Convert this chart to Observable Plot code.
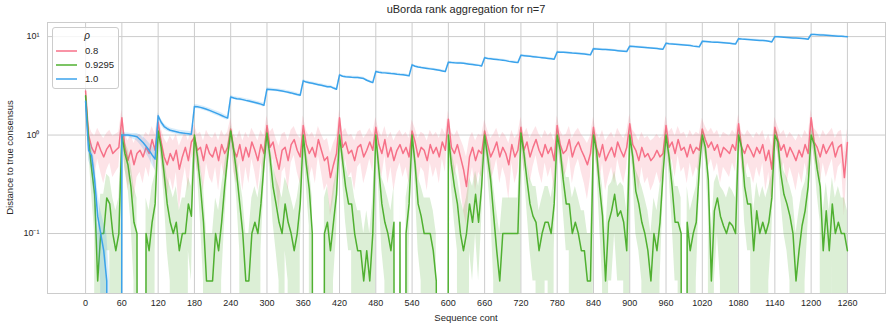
<!DOCTYPE html>
<html><head><meta charset="utf-8">
<script src="https://cdn.jsdelivr.net/npm/d3@7"></script>
<script src="https://cdn.jsdelivr.net/npm/@observablehq/plot@0.6"></script>
<style>body{margin:0;background:#fff;} svg{display:block;}</style>
</head><body><div id="chart"></div>
<script>
// ---------- data ----------
const seqStart = 0, seqEnd = 1260, seqStep = 5;
const xTicks = [0,60,120,180,240,300,360,420,480,540,600,660,720,780,840,900,960,1020,1080,1140,1200,1260];
const yTicks = [0.1, 1, 10];
const yTickLabels = ["10\u207B\u00B9", "10\u2070", "10\u00B9"];
const rhoLabels = ["0.8", "0.9295", "1.0"];
const titleText = "uBorda rank aggregation for n=7";
const xLabel = "Sequence cont";
const yLabel = "Distance to true consensus";

// rho = 0.8
const red = [
2.8,1.0,0.75,0.65,0.85,0.7,0.6,0.72,0.8,0.65,0.7,0.75,
1.5,0.75,0.55,0.7,0.5,0.65,0.7,0.6,0.75,0.65,0.9,0.7,
1.35,0.85,0.6,0.5,0.65,0.55,0.7,0.45,0.6,0.75,0.55,0.85,
0.95,0.7,0.75,0.55,0.8,0.65,0.6,0.75,0.55,0.8,0.65,0.75,
1.15,0.7,0.6,0.8,0.55,0.75,0.6,0.85,0.7,0.55,0.8,0.65,
1.25,0.75,0.85,0.6,0.45,0.7,0.75,0.55,0.8,0.9,0.7,0.6,
1.25,0.8,0.65,0.75,0.6,0.9,0.7,0.55,0.6,0.37,0.5,0.65,
1.5,0.75,0.85,0.65,0.7,0.55,0.75,0.8,0.6,0.7,0.85,0.7,
1.2,0.8,0.65,0.9,0.6,0.75,0.55,0.7,0.8,0.65,0.75,0.6,
1.1,0.85,0.6,0.75,0.7,0.55,0.8,0.65,0.75,0.6,0.85,0.7,
1.45,0.75,0.65,0.8,0.6,0.45,0.3,0.6,0.75,0.55,0.7,0.65,
1.1,0.8,0.6,0.7,0.85,0.6,0.75,0.65,0.5,0.8,0.6,0.7,
1.2,0.7,0.85,0.6,0.75,0.9,0.7,0.6,0.8,0.65,0.75,0.55,
1.25,0.8,0.65,0.7,0.9,0.6,0.75,0.85,0.7,0.6,0.5,0.65,
1.2,0.75,0.6,0.8,0.55,0.65,0.75,0.6,0.85,0.7,0.6,0.75,
1.3,0.8,0.7,0.55,0.75,0.6,0.65,0.55,0.6,0.7,0.6,0.65,
1.25,0.75,0.85,0.65,0.9,0.7,0.75,0.6,0.8,0.65,0.75,0.7,
1.15,0.9,0.75,0.85,0.7,0.8,0.6,0.75,0.7,0.65,0.8,0.7,
1.3,0.75,0.65,0.8,0.7,0.6,0.75,0.65,0.8,0.55,0.7,0.45,
1.2,0.9,0.7,0.8,0.6,0.75,0.65,0.55,0.7,0.6,0.8,0.65,
1.5,0.85,0.75,0.6,0.8,0.65,0.75,0.85,0.6,0.75,0.8,0.37,0.84];
const redLo = [
2.5,0.72,0.47,0.37,0.57,0.42,0.32,0.44,0.52,0.37,0.42,0.47,
1.2,0.47,0.27,0.42,0.22,0.37,0.42,0.32,0.47,0.37,0.62,0.42,
1.07,0.57,0.32,0.22,0.37,0.27,0.42,0.17,0.32,0.47,0.27,0.57,
0.67,0.42,0.47,0.27,0.52,0.37,0.32,0.47,0.27,0.52,0.37,0.47,
0.87,0.42,0.32,0.52,0.27,0.47,0.32,0.57,0.42,0.27,0.52,0.37,
0.97,0.47,0.57,0.32,0.17,0.42,0.47,0.27,0.52,0.62,0.42,0.32,
0.97,0.52,0.37,0.47,0.32,0.62,0.42,0.27,0.32,0.15,0.22,0.37,
1.2,0.47,0.57,0.37,0.42,0.27,0.47,0.52,0.32,0.42,0.57,0.42,
0.92,0.52,0.37,0.62,0.32,0.47,0.27,0.42,0.52,0.37,0.47,0.32,
0.82,0.57,0.32,0.47,0.42,0.27,0.52,0.37,0.47,0.32,0.57,0.42,
1.17,0.47,0.37,0.52,0.32,0.17,0.12,0.32,0.47,0.27,0.42,0.37,
0.82,0.52,0.32,0.42,0.57,0.32,0.47,0.37,0.22,0.52,0.32,0.42,
0.92,0.42,0.57,0.32,0.47,0.62,0.42,0.32,0.52,0.37,0.47,0.27,
0.97,0.52,0.37,0.42,0.62,0.32,0.47,0.57,0.42,0.32,0.22,0.37,
0.92,0.47,0.32,0.52,0.27,0.37,0.47,0.32,0.57,0.42,0.32,0.47,
1.02,0.52,0.42,0.27,0.47,0.32,0.37,0.27,0.32,0.42,0.32,0.37,
0.97,0.47,0.57,0.37,0.62,0.42,0.47,0.32,0.52,0.37,0.47,0.42,
0.87,0.62,0.47,0.57,0.42,0.52,0.32,0.47,0.42,0.37,0.52,0.42,
1.02,0.47,0.37,0.52,0.42,0.32,0.47,0.37,0.52,0.27,0.42,0.17,
0.92,0.62,0.42,0.52,0.32,0.47,0.37,0.27,0.42,0.32,0.52,0.37,
1.2,0.57,0.47,0.32,0.52,0.37,0.47,0.57,0.32,0.47,0.52,0.15,0.56];
const redHi = [
3.1,1.32,1.07,0.97,1.17,1.02,0.92,1.04,1.12,0.97,1.02,1.07,
1.8,1.07,0.87,1.02,0.82,0.97,1.02,0.92,1.07,0.97,1.22,1.02,
1.65,1.17,0.92,0.82,0.97,0.87,1.02,0.77,0.92,1.07,0.87,1.17,
1.27,1.02,1.07,0.87,1.12,0.97,0.92,1.07,0.87,1.12,0.97,1.07,
1.47,1.02,0.92,1.12,0.87,1.07,0.92,1.17,1.02,0.87,1.12,0.97,
1.57,1.07,1.17,0.92,0.77,1.02,1.07,0.87,1.12,1.22,1.02,0.92,
1.57,1.12,0.97,1.07,0.92,1.22,1.02,0.87,0.92,0.65,0.82,0.97,
1.8,1.07,1.17,0.97,1.02,0.87,1.07,1.12,0.92,1.02,1.17,1.02,
1.52,1.12,0.97,1.22,0.92,1.07,0.87,1.02,1.12,0.97,1.07,0.92,
1.42,1.17,0.92,1.07,1.02,0.87,1.12,0.97,1.07,0.92,1.17,1.02,
1.75,1.07,0.97,1.12,0.92,0.77,0.6,0.92,1.07,0.87,1.02,0.97,
1.42,1.12,0.92,1.02,1.17,0.92,1.07,0.97,0.82,1.12,0.92,1.02,
1.52,1.02,1.17,0.92,1.07,1.22,1.02,0.92,1.12,0.97,1.07,0.87,
1.57,1.12,0.97,1.02,1.22,0.92,1.07,1.17,1.02,0.92,0.82,0.97,
1.52,1.07,0.92,1.12,0.87,0.97,1.07,0.92,1.17,1.02,0.92,1.07,
1.62,1.12,1.02,0.87,1.07,0.92,0.97,0.87,0.92,1.02,0.92,0.97,
1.57,1.07,1.17,0.97,1.22,1.02,1.07,0.92,1.12,0.97,1.07,1.02,
1.47,1.22,1.07,1.17,1.02,1.12,0.92,1.07,1.02,0.97,1.12,1.02,
1.62,1.07,0.97,1.12,1.02,0.92,1.07,0.97,1.12,0.87,1.02,0.77,
1.52,1.22,1.02,1.12,0.92,1.07,0.97,0.87,1.02,0.92,1.12,0.97,
1.8,1.17,1.07,0.92,1.12,0.97,1.07,1.17,0.92,1.07,1.12,0.65,1.16];

// rho = 0.9295
const green = [
2.5,0.9,0.45,0.25,0.033,0.1,0.1,0.23,0.2,0.1,0.067,0.1,
1.0,0.65,0.5,0.3,0.13,0.1,0,0,0.1,0.067,0.13,0.2,
1.1,0.75,0.4,0.2,0.13,0.1,0.13,0.067,0.1,0.1,0.2,0.15,
1.0,0.6,0.3,0.13,0.033,0.033,0.033,0.1,0.067,0.13,0.3,0.6,
1.1,0.7,0.4,0.2,0.1,0.033,0.033,0.1,0.13,0.1,0.2,0.5,
1.05,0.6,0.3,0.2,0.13,0.1,0.2,0.13,0.1,0.067,0.1,0.2,
1.0,0.5,0.28,0.1,0,0,0,0.1,0.13,0.067,0.13,0.25,
1.0,0.55,0.3,0.2,0.2,0.1,0.067,0.067,0.033,0.067,0.033,0.1,
1.0,0.45,0.2,0.13,0.1,0.067,0.13,0,0.13,0,0.1,0.2,
1.0,0.5,0.2,0.15,0.1,0.1,0.1,0.067,0.033,0,0,0,
1.0,0.5,0.3,0.2,0.1,0.067,0.1,0.2,0.13,0.25,0.13,0.3,
1.0,0.6,0.35,0.15,0.067,0.033,0.1,0.1,0.1,0.1,0.1,0.1,
1.05,0.65,0.35,0.2,0.15,0.13,0.067,0.1,0.13,0.13,0.1,0.2,
1.0,0.7,0.35,0.2,0.2,0.1,0.13,0.1,0.067,0.067,0.033,0.033,
1.0,0.7,0.3,0.15,0.033,0.13,0.17,0.25,0.15,0.17,0.13,0.067,
1.0,0.6,0.27,0.2,0.13,0.1,0.067,0.033,0.1,0.067,0.13,0.4,
1.0,0.6,0.3,0.13,0.13,0.1,0,0.13,0.067,0.1,0.13,0.45,
1.0,0.75,0.35,0.033,0.17,0.23,0.15,0.12,0.1,0.13,0.12,0.1,
1.0,0.75,0.3,0.2,0.2,0.067,0.17,0.1,0.13,0.1,0.13,0.23,
1.0,0.85,0.4,0.25,0.2,0.15,0.1,0.033,0.067,0.12,0.17,0.3,
1.0,0.8,0.45,0.3,0.067,0.17,0.067,0.2,0.1,0.13,0.1,0.1,0.067];
const greenLo = [
2.2,0.7,0.25,0.1,0,0,0,0.067,0.067,0,0,0,
0.88,0.45,0.3,0.13,0.033,0,0,0,0,0,0,0.067,
0.95,0.55,0.22,0.067,0.033,0,0.033,0,0,0,0.067,0.033,
0.88,0.4,0.13,0.033,0,0,0,0,0,0.033,0.13,0.4,
0.95,0.5,0.22,0.067,0,0,0,0,0.033,0,0.067,0.3,
0.9,0.4,0.13,0.067,0.033,0,0.067,0.033,0,0,0,0.067,
0.88,0.3,0.12,0,0,0,0,0,0.033,0,0.033,0.1,
0.88,0.35,0.13,0.067,0.067,0,0,0,0,0,0,0,
0.88,0.27,0.067,0.033,0,0,0.033,0,0.033,0,0,0.067,
0.88,0.3,0.067,0.033,0,0,0,0,0,0,0,0,
0.88,0.3,0.13,0.067,0,0,0,0.067,0.033,0.1,0.033,0.13,
0.88,0.4,0.17,0.033,0,0,0,0,0,0,0,0,
0.9,0.45,0.17,0.067,0.033,0.033,0,0,0.033,0.033,0,0.067,
0.88,0.5,0.17,0.067,0.067,0,0.033,0,0,0,0,0,
0.88,0.5,0.13,0.033,0,0.033,0.033,0.1,0.033,0.033,0.033,0,
0.88,0.4,0.1,0.067,0.033,0,0,0,0,0,0.033,0.22,
0.88,0.4,0.13,0.033,0.033,0,0,0.033,0,0,0.033,0.25,
0.88,0.55,0.17,0,0.033,0.1,0.033,0,0,0.033,0,0,
0.88,0.55,0.13,0.067,0.067,0,0.033,0,0.033,0,0.033,0.1,
0.88,0.65,0.22,0.1,0.067,0.033,0,0,0,0,0.033,0.13,
0.88,0.6,0.25,0.13,0,0.033,0,0.067,0,0.033,0,0,0];
const greenHi = [
2.8,1.1,0.7,0.45,0.1,0.25,0.25,0.4,0.37,0.23,0.17,0.23,
1.15,0.85,0.72,0.5,0.3,0.23,0,0,0.23,0.17,0.3,0.4,
1.25,0.95,0.62,0.37,0.3,0.23,0.3,0.17,0.23,0.23,0.37,0.3,
1.15,0.8,0.5,0.3,0.1,0.1,0.1,0.23,0.17,0.3,0.5,0.8,
1.25,0.9,0.62,0.37,0.23,0.1,0.1,0.23,0.3,0.23,0.37,0.72,
1.2,0.8,0.5,0.37,0.3,0.23,0.37,0.3,0.23,0.17,0.23,0.37,
1.15,0.72,0.47,0.23,0,0,0,0.23,0.3,0.17,0.3,0.43,
1.15,0.77,0.5,0.37,0.37,0.23,0.17,0.17,0.1,0.17,0.1,0.23,
1.15,0.67,0.37,0.3,0.23,0.17,0.3,0,0.3,0,0.23,0.37,
1.15,0.72,0.37,0.3,0.23,0.23,0.23,0.17,0.1,0,0,0,
1.15,0.72,0.5,0.37,0.23,0.17,0.23,0.37,0.3,0.43,0.3,0.5,
1.15,0.8,0.55,0.3,0.17,0.1,0.23,0.23,0.23,0.23,0.23,0.23,
1.2,0.85,0.55,0.37,0.3,0.3,0.17,0.23,0.3,0.3,0.23,0.37,
1.15,0.9,0.55,0.37,0.37,0.23,0.3,0.23,0.17,0.17,0.1,0.1,
1.15,0.9,0.5,0.3,0.1,0.3,0.33,0.43,0.3,0.33,0.3,0.17,
1.15,0.8,0.45,0.37,0.3,0.23,0.17,0.1,0.23,0.17,0.3,0.62,
1.15,0.8,0.5,0.3,0.3,0.23,0,0.3,0.17,0.23,0.3,0.67,
1.15,0.95,0.55,0.1,0.33,0.4,0.3,0.27,0.23,0.3,0.27,0.23,
1.15,0.95,0.5,0.37,0.37,0.17,0.33,0.23,0.3,0.23,0.3,0.4,
1.15,1.05,0.62,0.43,0.37,0.3,0.23,0.1,0.17,0.27,0.33,0.5,
1.15,1.0,0.67,0.5,0.17,0.33,0.17,0.37,0.23,0.3,0.23,0.23,0.17];

// rho = 1.0
const blue = [
2.2,0.7,0.62,0.35,0.15,0.1,0.067,0.033,0,0,0,0,
1.0,1.0,1.0,0.99,0.98,0.96,0.9,0.84,0.77,0.7,0.63,0.57,
1.57,1.35,1.22,1.16,1.12,1.1,1.08,1.06,1.05,1.04,1.03,1.02,
1.95,1.94,1.91,1.87,1.83,1.78,1.73,1.68,1.63,1.58,1.53,1.49,
2.44,2.38,2.34,2.32,2.29,2.25,2.22,2.18,2.14,2.1,2.06,2.01,
2.92,2.9,2.88,2.86,2.83,2.8,2.76,2.72,2.68,2.63,2.58,2.54,
3.55,3.45,3.4,3.35,3.3,3.25,3.2,3.15,3.1,3.1,3.0,2.92,
4.08,3.95,3.9,3.88,3.86,3.85,3.84,3.8,3.75,3.6,3.5,3.41,
4.41,4.35,4.3,4.28,4.25,4.22,4.2,4.15,4.12,4.1,4.05,3.99,
5.16,5.0,4.92,4.85,4.8,4.75,4.7,4.65,4.6,4.55,4.48,4.41,
5.5,5.45,5.42,5.4,5.38,5.35,5.3,5.25,5.2,5.15,5.1,5.03,
6.11,6.0,5.95,5.9,5.85,5.8,5.75,5.7,5.6,5.55,5.5,5.44,
6.45,6.4,6.35,6.3,6.25,6.2,6.15,6.1,6.05,6.0,5.95,5.88,
6.98,6.95,6.92,6.9,6.85,6.8,6.78,6.75,6.7,6.65,6.58,6.52,
7.54,7.5,7.45,7.4,7.38,7.35,7.3,7.25,7.2,7.15,7.1,7.05,
7.98,7.95,7.9,7.85,7.8,7.75,7.7,7.65,7.6,7.55,7.5,7.44,
8.54,8.45,8.4,8.35,8.3,8.25,8.2,8.15,8.1,8.0,7.95,7.86,
8.96,8.9,8.85,8.8,8.78,8.75,8.7,8.65,8.6,8.55,8.48,8.4,
9.52,9.45,9.4,9.35,9.3,9.25,9.2,9.15,9.1,9.05,8.95,8.83,
9.97,9.95,9.9,9.85,9.8,9.75,9.7,9.65,9.6,9.55,9.5,9.4,
10.5,10.5,10.45,10.4,10.35,10.3,10.25,10.2,10.15,10.1,10.05,10.0,9.97];
const blueLo = [
1.9,0.55,0.45,0.2,0.067,0.033,0,0,0,0,0,0,
0.93,0.95,0.95,0.93,0.9,0.87,0.8,0.73,0.65,0.58,0.5,0.44,
1.45,1.25,1.14,1.09,1.06,1.04,1.02,1.0,0.99,0.98,0.97,0.96,
1.86,1.85,1.82,1.78,1.74,1.69,1.64,1.59,1.54,1.5,1.45,1.41,
2.34,2.29,2.25,2.23,2.2,2.16,2.13,2.09,2.05,2.01,1.97,1.92,
2.82,2.8,2.78,2.76,2.73,2.7,2.66,2.62,2.58,2.53,2.48,2.44,
3.43,3.34,3.29,3.24,3.19,3.14,3.09,3.04,2.99,2.99,2.9,2.82,
3.96,3.84,3.79,3.77,3.75,3.74,3.73,3.69,3.64,3.49,3.39,3.3,
4.3,4.24,4.19,4.17,4.14,4.11,4.09,4.04,4.01,3.99,3.94,3.88,
5.03,4.88,4.8,4.73,4.68,4.63,4.58,4.53,4.48,4.43,4.36,4.29,
5.37,5.32,5.29,5.27,5.25,5.22,5.17,5.12,5.07,5.02,4.97,4.9,
5.97,5.86,5.81,5.76,5.71,5.66,5.61,5.56,5.46,5.41,5.36,5.3,
6.31,6.26,6.21,6.16,6.11,6.06,6.01,5.96,5.91,5.86,5.81,5.74,
6.83,6.8,6.77,6.75,6.7,6.65,6.63,6.6,6.55,6.5,6.43,6.37,
7.38,7.34,7.29,7.24,7.22,7.19,7.14,7.09,7.04,6.99,6.94,6.89,
7.82,7.79,7.74,7.69,7.64,7.59,7.54,7.49,7.44,7.39,7.34,7.28,
8.37,8.28,8.23,8.18,8.13,8.08,8.03,7.98,7.93,7.83,7.78,7.69,
8.79,8.73,8.68,8.63,8.61,8.58,8.53,8.48,8.43,8.38,8.31,8.23,
9.34,9.27,9.22,9.17,9.12,9.07,9.02,8.97,8.92,8.87,8.77,8.65,
9.78,9.76,9.71,9.66,9.61,9.56,9.51,9.46,9.41,9.36,9.31,9.21,
10.3,10.3,10.25,10.2,10.15,10.1,10.05,10.0,9.95,9.9,9.85,9.8,9.77];
const blueHi = [
2.6,0.85,0.8,0.55,0.27,0.17,0.13,0.1,0.033,0,0,0,
1.05,1.05,1.05,1.04,1.04,1.04,1.0,0.96,0.9,0.83,0.77,0.7,
1.68,1.45,1.3,1.23,1.18,1.16,1.14,1.12,1.11,1.1,1.09,1.08,
2.04,2.03,2.0,1.96,1.92,1.87,1.82,1.77,1.72,1.67,1.61,1.57,
2.54,2.47,2.43,2.41,2.38,2.34,2.31,2.27,2.23,2.19,2.15,2.1,
3.02,3.0,2.98,2.96,2.93,2.9,2.86,2.82,2.78,2.73,2.68,2.64,
3.67,3.56,3.51,3.46,3.41,3.36,3.31,3.26,3.21,3.21,3.1,3.02,
4.2,4.06,4.01,3.99,3.97,3.96,3.95,3.91,3.86,3.71,3.61,3.52,
4.52,4.46,4.41,4.39,4.36,4.33,4.31,4.26,4.23,4.21,4.16,4.1,
5.29,5.12,5.04,4.97,4.92,4.87,4.82,4.77,4.72,4.67,4.6,4.53,
5.63,5.58,5.55,5.53,5.51,5.48,5.43,5.38,5.33,5.28,5.23,5.16,
6.25,6.14,6.09,6.04,5.99,5.94,5.89,5.84,5.74,5.69,5.64,5.58,
6.59,6.54,6.49,6.44,6.39,6.34,6.29,6.24,6.19,6.14,6.09,6.02,
7.13,7.1,7.07,7.05,7.0,6.95,6.93,6.9,6.85,6.8,6.73,6.67,
7.7,7.66,7.61,7.56,7.54,7.51,7.46,7.41,7.36,7.31,7.26,7.21,
8.14,8.11,8.06,8.01,7.96,7.91,7.86,7.81,7.76,7.71,7.66,7.6,
8.71,8.62,8.57,8.52,8.47,8.42,8.37,8.32,8.27,8.17,8.12,8.03,
9.13,9.07,9.02,8.97,8.95,8.92,8.87,8.82,8.77,8.72,8.65,8.57,
9.7,9.63,9.58,9.53,9.48,9.43,9.38,9.33,9.28,9.23,9.13,9.01,
10.16,10.14,10.09,10.04,9.99,9.94,9.89,9.84,9.79,9.74,9.69,9.59,
10.7,10.7,10.65,10.6,10.55,10.5,10.45,10.4,10.35,10.3,10.25,10.2,10.17];

// ---------- chart ----------
const colors = ["#f77189", "#50b131", "#3ba3ec"];
const W = 891, H = 329;
const mL = 47, mR = 6, mT = 22, mB = 36;
const font = "'Liberation Sans', Arial, sans-serif";
const seq = d3.range(seqStart, seqEnd + 1, seqStep);
const floorVal = 1e-30; // log-scale stand-in for zero (drops below the frame)
const pos = v => (v > 0 ? v : floorVal);

const series = [
  {mean: red, lo: redLo, hi: redHi},
  {mean: green, lo: greenLo, hi: greenHi},
  {mean: blue, lo: blueLo, hi: blueHi}
];

const marks = [
  Plot.gridX(xTicks, {stroke: "#cccccc", strokeOpacity: 1, strokeWidth: 1}),
  Plot.gridY(yTicks, {stroke: "#cccccc", strokeOpacity: 1, strokeWidth: 1})
];
series.forEach((s, k) => {
  const rows = seq.map((x, i) => ({x, y: pos(s.mean[i]), lo: pos(s.lo[i]), hi: pos(s.hi[i])}));
  marks.push(Plot.line(rows, {x: "x", y: "y", stroke: colors[k], strokeWidth: 1.5, clip: true}));
  marks.push(Plot.areaY(rows, {x: "x", y1: "lo", y2: "hi", fill: colors[k], fillOpacity: 0.2, clip: true}));
});
marks.push(Plot.axisX(xTicks, {tickSize: 0, tickPadding: 6, fontSize: 9, label: null, fill: "#262626",
  tickFormat: d => String(d)}));
marks.push(Plot.axisY(yTicks, {tickSize: 0, tickPadding: 8, fontSize: 9, label: null, fill: "#262626",
  tickFormat: v => yTickLabels[yTicks.indexOf(v)]}));
marks.push(Plot.frame({stroke: "#cccccc", strokeWidth: 1}));

const chart = Plot.plot({
  width: W, height: H,
  marginLeft: mL, marginRight: mR, marginTop: mT, marginBottom: mB,
  style: {fontFamily: font, fontSize: "9px", background: "#ffffff", color: "#262626", overflow: "visible"},
  x: {domain: [-63, 1323]},
  y: {type: "log", domain: [0.0246, 13.9]},
  marks
});
document.getElementById("chart").appendChild(chart);

// title, axis labels, legend
const svg = d3.select(chart);
svg.append("text").attr("x", mL + (W - mL - mR) / 2).attr("y", 13)
  .attr("text-anchor", "middle").attr("font-size", 11).attr("fill", "#262626")
  .attr("font-family", font).text(titleText);
svg.append("text").attr("x", mL + (W - mL - mR) / 2).attr("y", 321)
  .attr("text-anchor", "middle").attr("font-size", 9.5).attr("fill", "#262626")
  .attr("font-family", font).text(xLabel);
svg.append("text").attr("transform", `translate(13,${mT + (H - mT - mB) / 2}) rotate(-90)`)
  .attr("text-anchor", "middle").attr("font-size", 9.5).attr("fill", "#262626")
  .attr("font-family", font).text(yLabel);

const lg = svg.append("g").attr("font-family", font);
lg.append("rect").attr("x", 52.5).attr("y", 27.5).attr("width", 66).attr("height", 61)
  .attr("rx", 2.5).attr("fill", "#ffffff").attr("fill-opacity", 0.8).attr("stroke", "#cccccc");
lg.append("text").attr("x", 87).attr("y", 39).attr("text-anchor", "middle")
  .attr("font-size", 10).attr("font-style", "italic").attr("fill", "#262626").text("\u03C1");
rhoLabels.forEach((lab, k) => {
  const yy = 51 + k * 14;
  lg.append("line").attr("x1", 56).attr("x2", 77).attr("y1", yy).attr("y2", yy)
    .attr("stroke", colors[k]).attr("stroke-width", 1.5);
  lg.append("text").attr("x", 85).attr("y", yy + 3.3).attr("font-size", 9.5)
    .attr("text-anchor", "start").attr("fill", "#262626").text(lab);
});
</script>
</body></html>
